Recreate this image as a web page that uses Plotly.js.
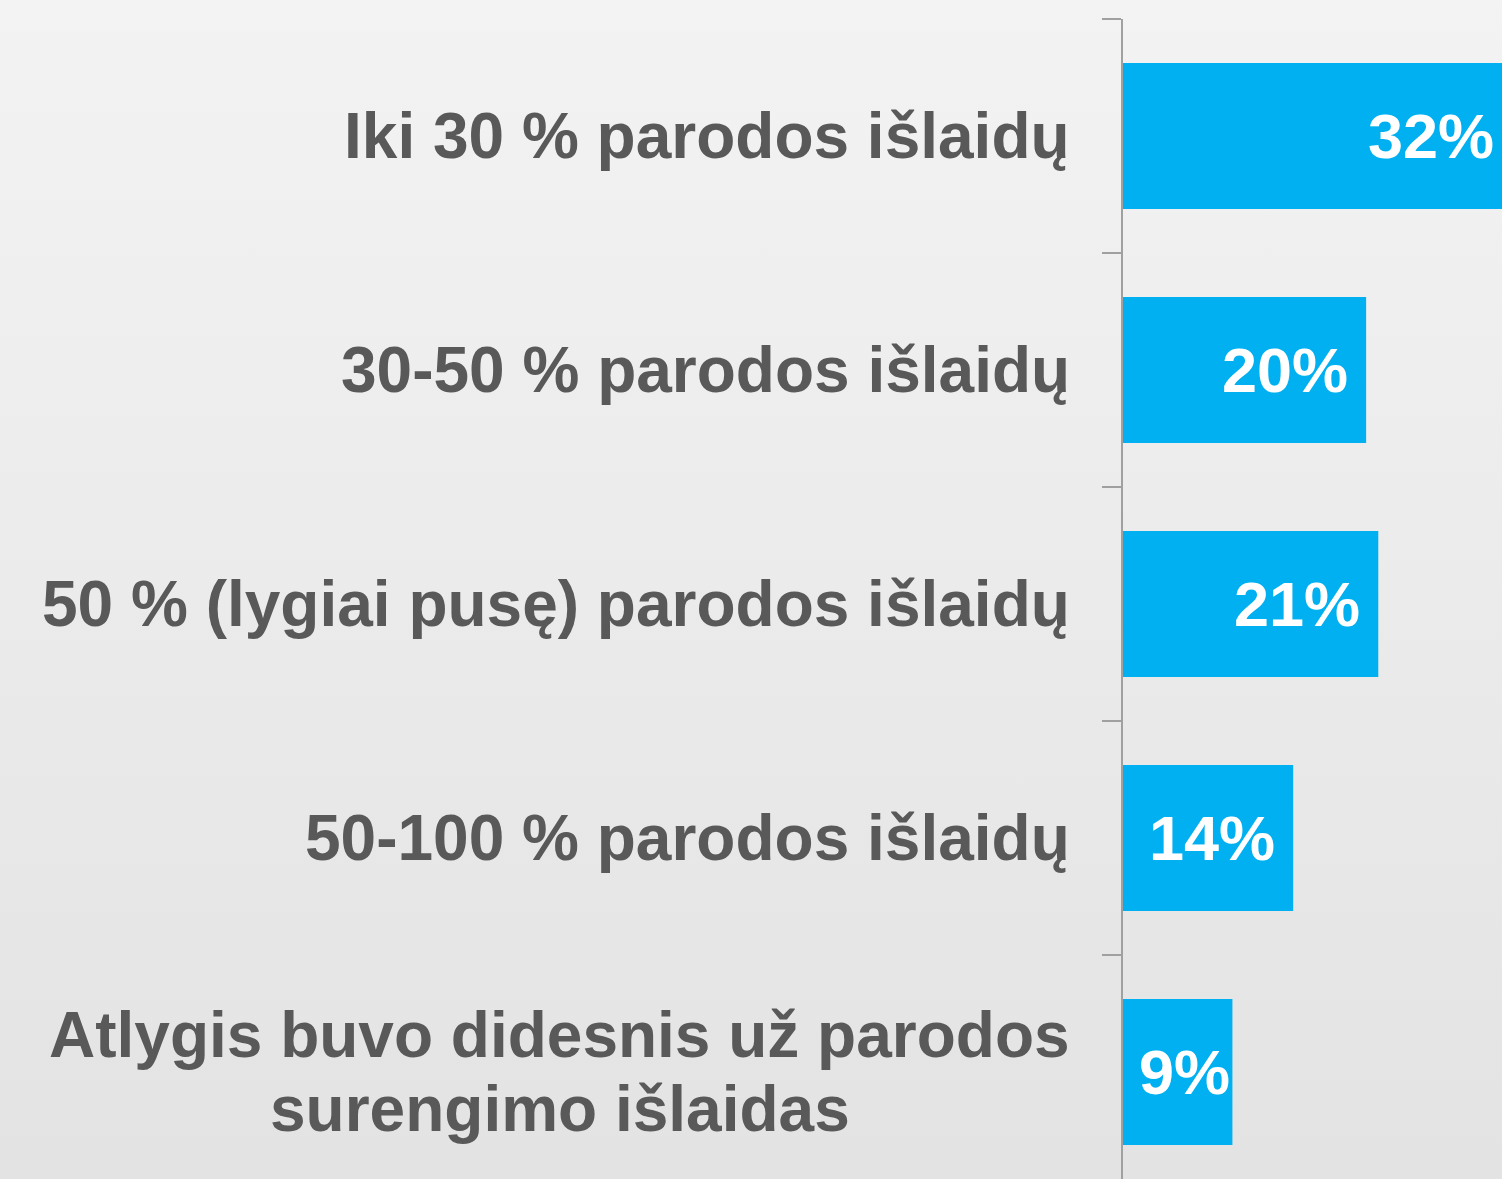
<!DOCTYPE html>
<html>
<head>
<meta charset="utf-8">
<script src="https://cdn.plot.ly/plotly-3.0.1.min.js"></script>
<style>
  html, body { margin: 0; padding: 0; overflow: hidden; width: 1502px; height: 1179px;
    background: linear-gradient(to bottom, #f3f3f3 0%, #e3e3e3 100%); }
  #chart { width: 1512px; height: 1189px; }
</style>
</head>
<body>
<div id="chart"></div>
<script>
const categories = [
  "Iki 30 % parodos išlaidų",
  "30-50 % parodos išlaidų",
  "50 % (lygiai pusę) parodos išlaidų",
  "50-100 % parodos išlaidų",
  "Atlygis buvo didesnis už parodos<br>surengimo išlaidas"
];
const values = [32, 20, 21, 14, 9];
const valueLabels = ["32%", "20%", "21%", "14%", "9%"];

const FONT = "Liberation Sans, Arial, sans-serif";
const LABEL_SIZE = 64;
const LINE_STEP = 74;
const LABEL_GAP = 53;

const ctx = document.createElement("canvas").getContext("2d");
ctx.font = "bold " + LABEL_SIZE + "px 'Liberation Sans', Arial, sans-serif";

const annotations = [];
categories.forEach((cat, i) => {
  const lines = cat.split("<br>");
  const n = lines.length;
  const blockW = Math.max(...lines.map(l => ctx.measureText(l).width));
  lines.forEach((ln, j) => {
    annotations.push({
      xref: "paper", x: 0, yref: "y", y: cat,
      xanchor: "center", yanchor: "middle",
      xshift: -LABEL_GAP - blockW / 2,
      yshift: -(j - (n - 1) / 2) * LINE_STEP,
      text: ln, showarrow: false, align: "center",
      font: { family: FONT, size: LABEL_SIZE, color: "#595959", weight: "bold" }
    });
  });
  annotations.push({
    xref: "x", x: values[i], yref: "y", y: cat,
    xanchor: "right", yanchor: "middle",
    xshift: values[i] < 10 ? 0 : -16,
    text: valueLabels[i], showarrow: false,
    font: { family: FONT, size: 63, color: "#ffffff", weight: "bold" }
  });
});

const trace = {
  type: "bar", orientation: "h",
  x: values, y: categories,
  width: 0.624,
  marker: { color: "#00b0f0", line: { width: 0 } },
  hoverinfo: "none"
};

const layout = {
  width: 1512, height: 1189,
  margin: { l: 1123, r: 0, t: 19, b: 0, pad: 0 },
  paper_bgcolor: "rgba(0,0,0,0)",
  plot_bgcolor: "rgba(0,0,0,0)",
  showlegend: false,
  xaxis: { range: [0, 32], visible: false, fixedrange: true },
  yaxis: {
    type: "category",
    categoryorder: "array", categoryarray: categories,
    range: [4.5, -0.5],
    showline: true, linecolor: "#a0a0a0", linewidth: 2,
    ticks: "outside", tickson: "boundaries", ticklen: 19, tickwidth: 2, tickcolor: "#a0a0a0",
    showticklabels: false, showgrid: false, zeroline: false, fixedrange: true
  },
  annotations: annotations,
  font: { family: FONT }
};

Plotly.newPlot("chart", [trace], layout, { displayModeBar: false, staticPlot: true });
</script>
</body>
</html>
